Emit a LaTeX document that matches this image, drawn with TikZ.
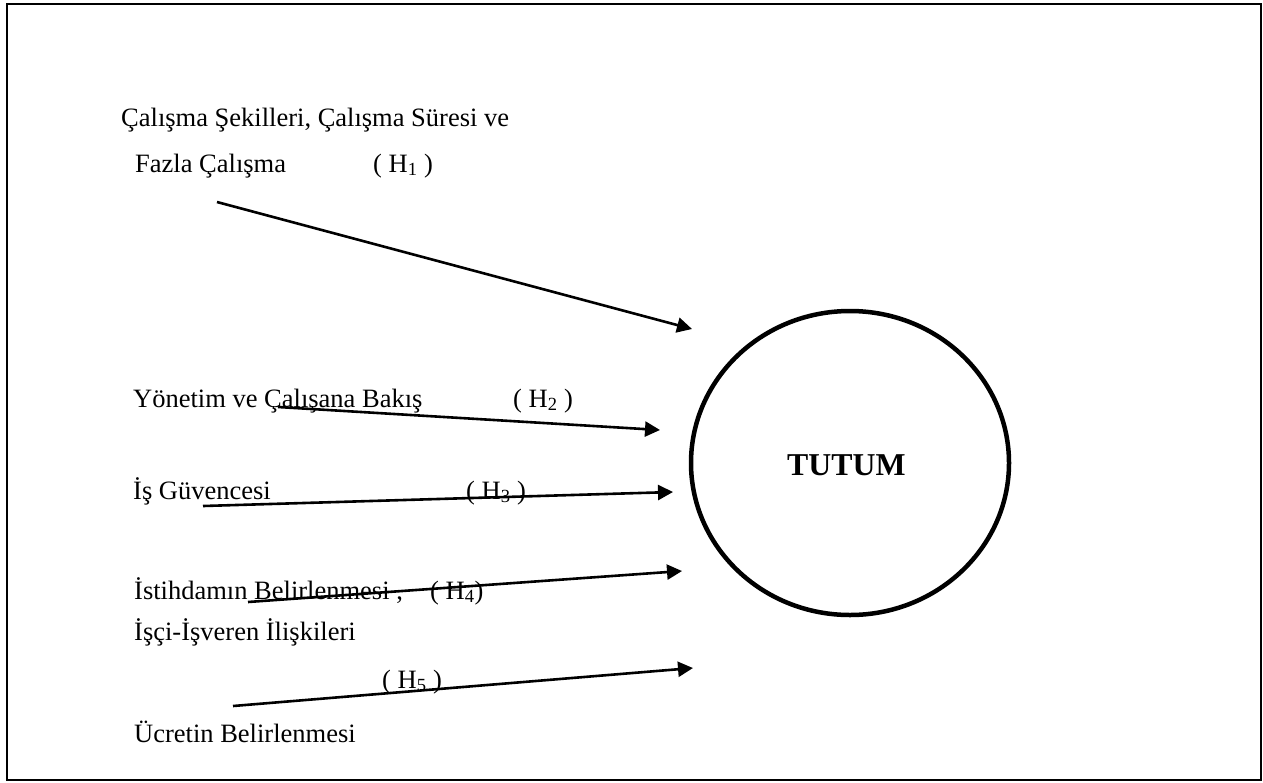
\documentclass[tikz,border=0pt]{standalone}
\usepackage{fontspec}
\setmainfont{Liberation Serif}
\usetikzlibrary{arrows.meta,shapes.geometric}
\begin{document}
\begin{tikzpicture}[x=1pt,y=-1pt,
  lbl/.style={anchor=base west, inner sep=0pt, font=\fontsize{26.5}{32}\selectfont},
  arr/.style={line width=2.6pt, -{Triangle[length=15pt,width=15pt]}},
  frame/.style={line width=2pt},
  circ/.style={ellipse, draw, line width=4.5pt, minimum width=318pt, minimum height=304pt, inner sep=0pt}
]
\useasboundingbox (0,0) rectangle (1263,782);
\draw[frame] (7,3.5) rectangle (1260.5,780);

% central construct
\node[circ] (tutum) at (850,463) {};
\node[anchor=base west, inner sep=0pt, font=\fontsize{31.8}{36}\selectfont\bfseries] (tutumtxt) at (787,475) {TUTUM};

% labels
\node[lbl] (t1a) at (121,126) {Çalışma Şekilleri, Çalışma Süresi ve};
\node[lbl] (t1b) at (135,172) {Fazla Çalışma};
\node[lbl] (h1) at (373,172) {( H\textsubscript{1} )};
\node[lbl] (t2) at (133,407) {Yönetim ve Çalışana Bakış};
\node[lbl] (h2) at (513,407) {( H\textsubscript{2} )};
\node[lbl] (t3) at (133,499) {İş Güvencesi};
\node[lbl] (h3) at (466,499) {( H\textsubscript{3} )};
\node[lbl] (t4) at (134,599) {İstihdamın Belirlenmesi ,};
\node[lbl] (h4) at (430,599) {( H\textsubscript{4})};
\node[lbl] (t5) at (134,640) {İşçi-İşveren İlişkileri};
\node[lbl] (h5) at (382,688) {( H\textsubscript{5} )};
\node[lbl] (t6) at (134,742) {Ücretin Belirlenmesi};

% arrow end points
\coordinate (s1) at (217,202); \coordinate (e1) at (692,329);
\coordinate (s2) at (278,407); \coordinate (e2) at (660,430);
\coordinate (s3) at (203,506); \coordinate (e3) at (673,492);
\coordinate (s4) at (248,602); \coordinate (e4) at (682,571);
\coordinate (s5) at (233,706); \coordinate (e5) at (693,668);

\draw[arr] (s1) -- (e1);
\draw[arr] (s2) -- (e2);
\draw[arr] (s3) -- (e3);
\draw[arr] (s4) -- (e4);
\draw[arr] (s5) -- (e5);
\end{tikzpicture}
\end{document}
